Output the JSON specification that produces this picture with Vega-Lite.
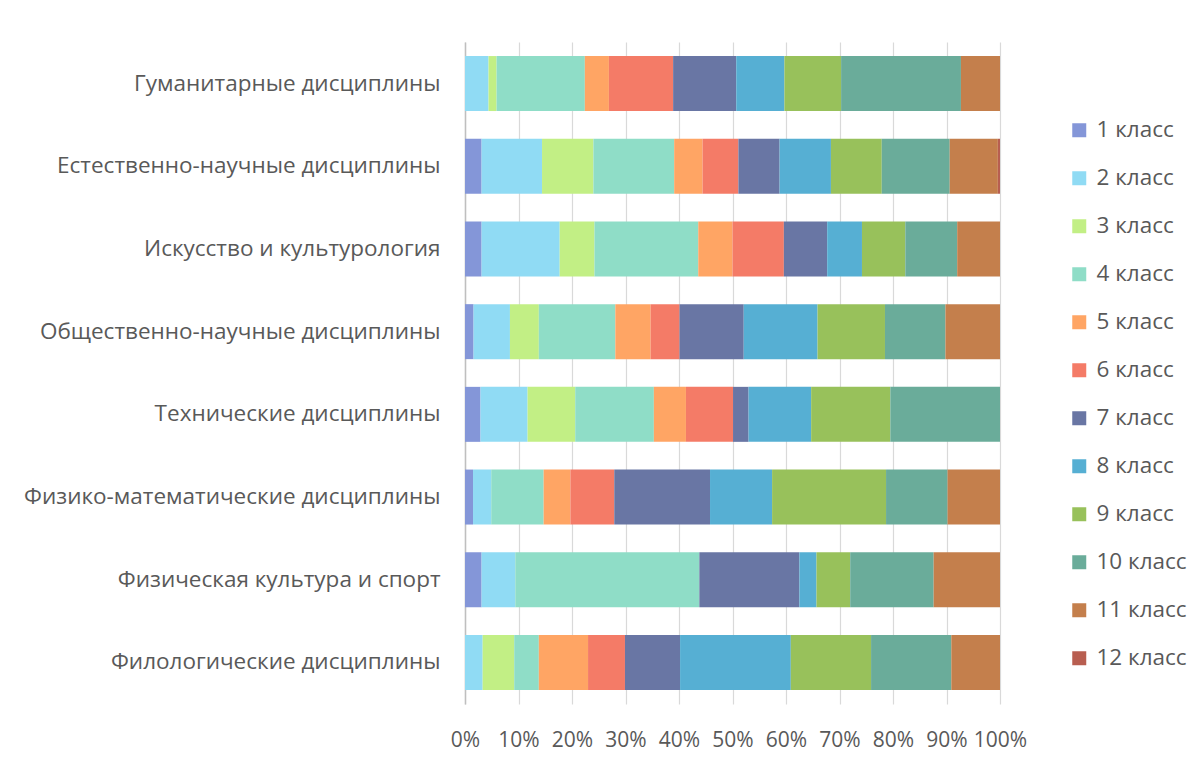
{
  "$schema": "https://vega.github.io/schema/vega-lite/v6.json",
  "width": 535,
  "height": 662,
  "padding": {"top": 42, "left": 5, "right": 5, "bottom": 5},
  "background": "#ffffff",
  "config": {
    "font": "Open Sans",
    "view": {"stroke": null},
    "axis": {"labelColor": "#595959", "labelFont": "Open Sans"},
    "legend": {"labelColor": "#595959", "labelFont": "Open Sans"}
  },
  "data": {
    "values": [
      {"d": "Гуманитарные дисциплины", "g": "2 класс", "n": 2, "v": 4.4},
      {"d": "Гуманитарные дисциплины", "g": "3 класс", "n": 3, "v": 1.5},
      {"d": "Гуманитарные дисциплины", "g": "4 класс", "n": 4, "v": 16.5},
      {"d": "Гуманитарные дисциплины", "g": "5 класс", "n": 5, "v": 4.5},
      {"d": "Гуманитарные дисциплины", "g": "6 класс", "n": 6, "v": 12.0},
      {"d": "Гуманитарные дисциплины", "g": "7 класс", "n": 7, "v": 11.8},
      {"d": "Гуманитарные дисциплины", "g": "8 класс", "n": 8, "v": 9.0},
      {"d": "Гуманитарные дисциплины", "g": "9 класс", "n": 9, "v": 10.6},
      {"d": "Гуманитарные дисциплины", "g": "10 класс", "n": 10, "v": 22.4},
      {"d": "Гуманитарные дисциплины", "g": "11 класс", "n": 11, "v": 7.3},

      {"d": "Естественно-научные дисциплины", "g": "1 класс", "n": 1, "v": 3.1},
      {"d": "Естественно-научные дисциплины", "g": "2 класс", "n": 2, "v": 11.3},
      {"d": "Естественно-научные дисциплины", "g": "3 класс", "n": 3, "v": 9.6},
      {"d": "Естественно-научные дисциплины", "g": "4 класс", "n": 4, "v": 15.1},
      {"d": "Естественно-научные дисциплины", "g": "5 класс", "n": 5, "v": 5.3},
      {"d": "Естественно-научные дисциплины", "g": "6 класс", "n": 6, "v": 6.7},
      {"d": "Естественно-научные дисциплины", "g": "7 класс", "n": 7, "v": 7.7},
      {"d": "Естественно-научные дисциплины", "g": "8 класс", "n": 8, "v": 9.6},
      {"d": "Естественно-научные дисциплины", "g": "9 класс", "n": 9, "v": 9.5},
      {"d": "Естественно-научные дисциплины", "g": "10 класс", "n": 10, "v": 12.7},
      {"d": "Естественно-научные дисциплины", "g": "11 класс", "n": 11, "v": 9.0},
      {"d": "Естественно-научные дисциплины", "g": "12 класс", "n": 12, "v": 0.4},

      {"d": "Искусство и культурология", "g": "1 класс", "n": 1, "v": 3.1},
      {"d": "Искусство и культурология", "g": "2 класс", "n": 2, "v": 14.6},
      {"d": "Искусство и культурология", "g": "3 класс", "n": 3, "v": 6.5},
      {"d": "Искусство и культурология", "g": "4 класс", "n": 4, "v": 19.4},
      {"d": "Искусство и культурология", "g": "5 класс", "n": 5, "v": 6.4},
      {"d": "Искусство и культурология", "g": "6 класс", "n": 6, "v": 9.6},
      {"d": "Искусство и культурология", "g": "7 класс", "n": 7, "v": 8.1},
      {"d": "Искусство и культурология", "g": "8 класс", "n": 8, "v": 6.5},
      {"d": "Искусство и культурология", "g": "9 класс", "n": 9, "v": 8.1},
      {"d": "Искусство и культурология", "g": "10 класс", "n": 10, "v": 9.7},
      {"d": "Искусство и культурология", "g": "11 класс", "n": 11, "v": 8.0},

      {"d": "Общественно-научные дисциплины", "g": "1 класс", "n": 1, "v": 1.6},
      {"d": "Общественно-научные дисциплины", "g": "2 класс", "n": 2, "v": 6.8},
      {"d": "Общественно-научные дисциплины", "g": "3 класс", "n": 3, "v": 5.4},
      {"d": "Общественно-научные дисциплины", "g": "4 класс", "n": 4, "v": 14.3},
      {"d": "Общественно-научные дисциплины", "g": "5 класс", "n": 5, "v": 6.6},
      {"d": "Общественно-научные дисциплины", "g": "6 класс", "n": 6, "v": 5.4},
      {"d": "Общественно-научные дисциплины", "g": "7 класс", "n": 7, "v": 12.0},
      {"d": "Общественно-научные дисциплины", "g": "8 класс", "n": 8, "v": 13.8},
      {"d": "Общественно-научные дисциплины", "g": "9 класс", "n": 9, "v": 12.6},
      {"d": "Общественно-научные дисциплины", "g": "10 класс", "n": 10, "v": 11.3},
      {"d": "Общественно-научные дисциплины", "g": "11 класс", "n": 11, "v": 10.2},

      {"d": "Технические дисциплины", "g": "1 класс", "n": 1, "v": 2.9},
      {"d": "Технические дисциплины", "g": "2 класс", "n": 2, "v": 8.8},
      {"d": "Технические дисциплины", "g": "3 класс", "n": 3, "v": 8.9},
      {"d": "Технические дисциплины", "g": "4 класс", "n": 4, "v": 14.7},
      {"d": "Технические дисциплины", "g": "5 класс", "n": 5, "v": 6.0},
      {"d": "Технические дисциплины", "g": "6 класс", "n": 6, "v": 8.8},
      {"d": "Технические дисциплины", "g": "7 класс", "n": 7, "v": 2.9},
      {"d": "Технические дисциплины", "g": "8 класс", "n": 8, "v": 11.7},
      {"d": "Технические дисциплины", "g": "9 класс", "n": 9, "v": 14.8},
      {"d": "Технические дисциплины", "g": "10 класс", "n": 10, "v": 20.5},

      {"d": "Физико-математические дисциплины", "g": "1 класс", "n": 1, "v": 1.5},
      {"d": "Физико-математические дисциплины", "g": "2 класс", "n": 2, "v": 3.4},
      {"d": "Физико-математические дисциплины", "g": "4 класс", "n": 4, "v": 9.8},
      {"d": "Физико-математические дисциплины", "g": "5 класс", "n": 5, "v": 5.0},
      {"d": "Физико-математические дисциплины", "g": "6 класс", "n": 6, "v": 8.2},
      {"d": "Физико-математические дисциплины", "g": "7 класс", "n": 7, "v": 17.9},
      {"d": "Физико-математические дисциплины", "g": "8 класс", "n": 8, "v": 11.6},
      {"d": "Физико-математические дисциплины", "g": "9 класс", "n": 9, "v": 21.3},
      {"d": "Физико-математические дисциплины", "g": "10 класс", "n": 10, "v": 11.5},
      {"d": "Физико-математические дисциплины", "g": "11 класс", "n": 11, "v": 9.8},

      {"d": "Физическая культура и спорт", "g": "1 класс", "n": 1, "v": 3.1},
      {"d": "Физическая культура и спорт", "g": "2 класс", "n": 2, "v": 6.3},
      {"d": "Физическая культура и спорт", "g": "4 класс", "n": 4, "v": 34.4},
      {"d": "Физическая культура и спорт", "g": "7 класс", "n": 7, "v": 18.7},
      {"d": "Физическая культура и спорт", "g": "8 класс", "n": 8, "v": 3.2},
      {"d": "Физическая культура и спорт", "g": "9 класс", "n": 9, "v": 6.3},
      {"d": "Физическая культура и спорт", "g": "10 класс", "n": 10, "v": 15.6},
      {"d": "Физическая культура и спорт", "g": "11 класс", "n": 11, "v": 12.4},

      {"d": "Филологические дисциплины", "g": "2 класс", "n": 2, "v": 3.3},
      {"d": "Филологические дисциплины", "g": "3 класс", "n": 3, "v": 5.9},
      {"d": "Филологические дисциплины", "g": "4 класс", "n": 4, "v": 4.6},
      {"d": "Филологические дисциплины", "g": "5 класс", "n": 5, "v": 9.2},
      {"d": "Филологические дисциплины", "g": "6 класс", "n": 6, "v": 6.9},
      {"d": "Филологические дисциплины", "g": "7 класс", "n": 7, "v": 10.3},
      {"d": "Филологические дисциплины", "g": "8 класс", "n": 8, "v": 20.7},
      {"d": "Филологические дисциплины", "g": "9 класс", "n": 9, "v": 15.0},
      {"d": "Филологические дисциплины", "g": "10 класс", "n": 10, "v": 15.0},
      {"d": "Филологические дисциплины", "g": "11 класс", "n": 11, "v": 9.1}
    ]
  },
  "mark": {"type": "bar"},
  "encoding": {
    "y": {
      "field": "d",
      "type": "nominal",
      "sort": null,
      "scale": {"paddingInner": 0.335, "paddingOuter": 0.17},
      "axis": {
        "title": null,
        "labelFontSize": 22.5,
        "labelPadding": 25,
        "ticks": false,
        "grid": false,
        "domainColor": "#bfbfbf",
        "domainWidth": 1.5,
        "minExtent": 460,
        "maxExtent": 460,
        "labelLimit": 460
      }
    },
    "x": {
      "field": "v",
      "type": "quantitative",
      "stack": "normalize",
      "scale": {"domain": [0, 1], "nice": false},
      "axis": {
        "title": null,
        "format": ".0%",
        "values": [0, 0.1, 0.2, 0.3, 0.4, 0.5, 0.6, 0.7, 0.8, 0.9, 1],
        "labelFontSize": 21,
        "labelPadding": 25,
        "ticks": false,
        "domain": false,
        "grid": true,
        "gridColor": "#d9d9d9",
        "gridWidth": 1.2,
        "labelOverlap": false,
        "labelFlush": false
      }
    },
    "color": {
      "field": "g",
      "type": "nominal",
      "scale": {
        "domain": ["1 класс", "2 класс", "3 класс", "4 класс", "5 класс", "6 класс", "7 класс", "8 класс", "9 класс", "10 класс", "11 класс", "12 класс"],
        "range": ["#8496d8", "#90dbf4", "#c2ef85", "#8fddc7", "#ffa564", "#f47b67", "#6976a4", "#56afd3", "#98c15b", "#6aac9a", "#c47f4c", "#b85e50"]
      },
      "legend": {
        "title": null,
        "orient": "none",
        "legendX": 603,
        "legendY": 77,
        "symbolType": "square",
        "symbolSize": 196,
        "symbolStrokeWidth": 0,
        "labelFontSize": 22.5,
        "labelOffset": 6,
        "rowPadding": 25,
        "padding": 0
      }
    },
    "order": {"field": "n", "type": "quantitative"}
  }
}
